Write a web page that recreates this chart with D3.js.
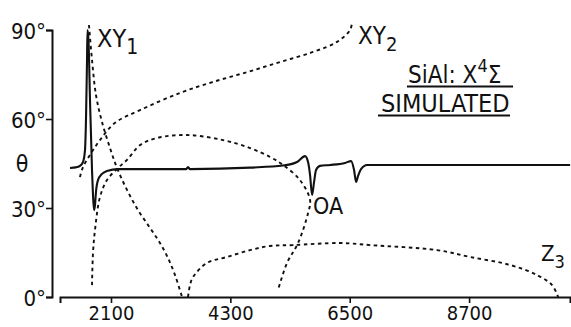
<!DOCTYPE html>
<html>
<head>
<meta charset="utf-8">
<script src="https://cdn.jsdelivr.net/npm/d3@7"></script>
<style>
  html, body { margin: 0; padding: 0; background: #fff; }
  svg { display: block; }
  text { font-family: 'Liberation Sans Narrow', 'DejaVu Sans Condensed', 'Liberation Sans', sans-serif; fill: #111; }
</style>
</head>
<body>
<svg id="chart" width="571" height="327"></svg>
<script>
// tick values
const xTicks = [2100, 4300, 6500, 8700];
const yTicks = [0, 30, 60, 90];

// OA (solid)
const oaX = [1344, 1455, 1528, 1584, 1621, 1639, 1658, 1667, 1685, 1713, 1750, 1768, 1787, 1805, 1823, 1860, 1934, 2026, 2229, 2635,
  3483, 3520, 3556, 4663, 5271, 5529, 5677, 5732, 5769, 5806, 5843, 5879, 5953, 6137, 6414, 6525, 6580, 6617, 6654, 6709, 6820, 10562];
const oaTheta = [43.5, 43.7, 44.2, 45.5, 49.6, 59.7, 79.9, 90.0, 86.6, 66.4, 42.8, 34.4, 29.3, 31.0, 35.4, 39.4, 41.5, 42.5, 43.1, 43.1,
  43.1, 43.8, 43.1, 43.6, 44.3, 45.5, 47.5, 45.5, 41.1, 34.4, 38.8, 42.8, 44.2, 44.5, 45.2, 45.8, 42.8, 38.8, 40.8, 43.1, 44.5, 44.5];

// XY1 (dotted)
const xy1X = [1694, 1750, 1823, 1934, 2082, 2211, 2395, 2598, 2819, 3003, 3151, 3280, 3409];
const xy1Theta = [91.7, 79.9, 68.1, 59.0, 50.2, 43.5, 36.1, 29.3, 23.3, 18.2, 13.1, 7.4, 0];

// XY2 (dotted)
const xy2X = [1528, 1584, 1713, 1897, 2174, 2635, 3372, 3980, 4607, 5216, 5824, 6267, 6506, 6543];
const xy2Theta = [40.4, 43.8, 47.9, 52.9, 58.7, 63.0, 68.8, 72.5, 75.8, 79.2, 82.6, 86.0, 90.0, 92.7];

// unlabelled loop (dotted)
const loopX = [1750, 1768, 1805, 1897, 2026, 2229, 2395, 2635, 2948, 3501, 4165, 4663, 5031, 5271, 5584, 5769, 5732, 5548, 5345, 5179];
const loopTheta = [4.0, 14.8, 22.6, 33.7, 39.4, 43.5, 46.2, 51.2, 53.6, 54.6, 52.9, 50.2, 47.2, 44.5, 39.4, 32.7, 28.3, 18.2, 11.5, 2.4];

// Z3 (dotted)
const z3X = [3520, 3556, 3612, 3870, 4239, 4663, 5031, 5455, 6322, 6875, 8110, 8718, 9456, 9954, 10230, 10341];
const z3Theta = [0, 4.0, 6.7, 11.5, 13.5, 15.8, 17.2, 17.5, 18.2, 17.5, 15.8, 13.5, 10.8, 7.4, 4.0, 0];

const svg = d3.select('#chart');
const x = d3.scaleLinear().domain([1160, 10560]).range([60, 570]);
const y = d3.scaleLinear().domain([0, 90]).range([297, 30]);

// axes
const xAxis = svg.append('g').attr('transform', `translate(0,${y(0)})`)
  .call(d3.axisBottom(x).tickValues(xTicks).tickSizeOuter(0).tickSize(6).tickPadding(3).tickFormat(d3.format('d')));
const yAxis = svg.append('g').attr('transform', `translate(52,0)`)
  .call(d3.axisLeft(y).tickValues(yTicks).tickSizeOuter(0).tickSize(6).tickPadding(0).tickFormat(d => d + '°'));
[xAxis, yAxis].forEach(a => {
  a.select('.domain').attr('stroke', '#111').attr('stroke-width', 2);
  a.selectAll('.tick line').attr('stroke', '#111').attr('stroke-width', 1.6);
  a.selectAll('.tick text').attr('fill', '#111').style('font-size', '22px');
});
xAxis.selectAll('.tick text').style('font-size', '20px');
yAxis.selectAll('.tick text').attr('dy', '0.4em');

svg.append('text').attr('x', 22).attr('y', y(45)).attr('dy', '0.35em')
  .attr('text-anchor', 'middle').style('font-size', '23px').text('θ');

// curves
const toPts = (xs, ts) => xs.map((v, i) => [v, ts[i]]);
const lineMono = d3.line().x(d => x(d[0])).y(d => y(d[1])).curve(d3.curveMonotoneX);
const lineCR = d3.line().x(d => x(d[0])).y(d => y(d[1])).curve(d3.curveCatmullRom.alpha(0.5));

const dotted = [toPts(xy1X, xy1Theta), toPts(xy2X, xy2Theta), toPts(loopX, loopTheta), toPts(z3X, z3Theta)];
svg.selectAll('.dot-curve').data(dotted).enter().append('path')
  .attr('class', 'dot-curve')
  .attr('d', lineCR)
  .attr('fill', 'none').attr('stroke', '#111').attr('stroke-width', 1.9)
  .attr('stroke-dasharray', '3.5,3.5');

svg.append('path').datum(toPts(oaX, oaTheta))
  .attr('d', lineMono)
  .attr('fill', 'none').attr('stroke', '#111').attr('stroke-width', 2.1)
  .attr('stroke-linejoin', 'round');

// labels
const lab = (px, py, main, sub, size) => {
  const t = svg.append('text').attr('x', px).attr('y', py).style('font-size', size + 'px').text(main);
  if (sub) t.append('tspan').attr('dy', 7).style('font-size', (size - 4) + 'px').text(sub);
  return t;
};
lab(97, 47, 'XY', '1', 25);
lab(358, 44, 'XY', '2', 24);
lab(313, 214, 'OA', null, 23);
lab(541, 261, 'Z', '3', 22);

const title = svg.append('text').attr('x', 408).attr('y', 83).style('font-size', '24px');
title.append('tspan').text('SiAl: X');
title.append('tspan').attr('dy', -11).style('font-size', '18px').text('4');
title.append('tspan').attr('dy', 11).text('Σ');
svg.append('text').attr('x', 381).attr('y', 112).style('font-size', '25px').text('SIMULATED');
svg.append('line').attr('x1', 407).attr('x2', 513).attr('y1', 86.5).attr('y2', 86.5).attr('stroke', '#111').attr('stroke-width', 1.8);
svg.append('line').attr('x1', 378).attr('x2', 510).attr('y1', 115.5).attr('y2', 115.5).attr('stroke', '#111').attr('stroke-width', 1.8);
</script>
</body>
</html>
